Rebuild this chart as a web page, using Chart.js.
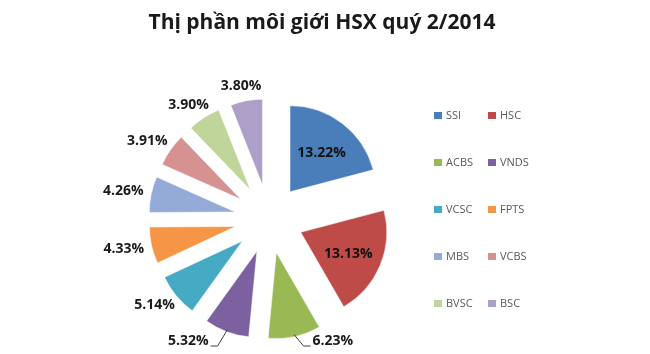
<!DOCTYPE html>
<html>
<head>
<meta charset="utf-8">
<script src="https://cdn.jsdelivr.net/npm/chart.js@4.4.1/dist/chart.umd.min.js"></script>
<style>
  html, body { margin: 0; padding: 0; background: #ffffff; }
  canvas { display: block; }
</style>
</head>
<body>
<canvas id="c" width="650" height="354"></canvas>
<script>
// ---- data ----
const chartTitle = 'Thị phần môi giới HSX quý 2/2014';
const categories = ['SSI', 'HSC', 'ACBS', 'VNDS', 'VCSC', 'FPTS', 'MBS', 'VCBS', 'BVSC', 'BSC'];
const shares = [13.22, 13.13, 6.23, 5.32, 5.14, 4.33, 4.26, 3.91, 3.90, 3.80];
const sliceColors = ['#4A7EBB', '#BE4B48', '#98B954', '#7D60A0', '#46AAC5',
                     '#F69545', '#93ABD6', '#D69290', '#C0D599', '#AD9FC8'];

// ---- styling constants ----
const EXPLODE = 0.4;          // explosion as fraction of radius
const PIE_RADIUS = 86;
const LABEL_FONT = 'bold 14px "Open Sans", sans-serif';
const LEGEND_FONT = '11px "Open Sans", sans-serif';
const TITLE_FONT = 'bold 21px "Open Sans", sans-serif';

const explodePlugin = {
  id: 'explodePlugin',
  afterUpdate(chart) {
    const meta = chart.getDatasetMeta(0);
    const ca = chart.chartArea;
    const cx = (ca.left + ca.right) / 2, cy = (ca.top + ca.bottom) / 2;
    meta.data.forEach(arc => {
      const m = (arc.startAngle + arc.endAngle) / 2;
      const d = arc.outerRadius * EXPLODE;
      arc.x = cx + Math.cos(m) * d;
      arc.y = cy + Math.sin(m) * d;
    });
  }
};

const labelPlugin = {
  id: 'labelPlugin',
  afterDatasetsDraw(chart) {
    const ctx = chart.ctx;
    const meta = chart.getDatasetMeta(0);
    const limitY = chart.height - 5;
    ctx.save();
    ctx.font = LABEL_FONT;
    ctx.textAlign = 'center';
    ctx.textBaseline = 'middle';
    meta.data.forEach((arc, i) => {
      const txt = shares[i].toFixed(2) + '%';
      const m = (arc.startAngle + arc.endAngle) / 2;
      const dx = Math.cos(m), dy = Math.sin(m);
      const R = arc.outerRadius;
      if (shares[i] >= 10) {
        ctx.fillStyle = '#111111';
        ctx.fillText(txt, arc.x + dx * R * 0.6, arc.y + dy * R * 0.6 + 2);
        return;
      }
      const w = ctx.measureText(txt).width, h = 14;
      const ex = arc.x + dx * R, ey = arc.y + dy * R;
      const gap = 8;
      let cx = ex + dx * gap + dx * w / 2;
      let cy = ey + dy * gap + dy * h / 2;
      if (cy + h / 2 > limitY) {
        const s = dx < 0 ? -1 : 1;
        cy = limitY - h / 2 - 1;
        cx = ex + s * (18 + w / 2);
        ctx.strokeStyle = '#404040';
        ctx.lineWidth = 1;
        ctx.beginPath();
        ctx.moveTo(arc.x + dx * (R - 2), arc.y + dy * (R - 2));
        ctx.lineTo(cx - s * (w / 2 + 9), cy + 5);
        ctx.lineTo(cx - s * (w / 2 + 2), cy + 5);
        ctx.stroke();
      }
      ctx.fillStyle = '#1a1a1a';
      ctx.fillText(txt, cx, cy);
    });
    ctx.restore();
  },
  afterDraw(chart) {
    const ctx = chart.ctx;
    ctx.save();
    // title
    ctx.font = TITLE_FONT;
    ctx.fillStyle = '#1a1a1a';
    ctx.textAlign = 'center';
    ctx.textBaseline = 'middle';
    ctx.fillText(chartTitle, 322, 23);
    // legend: 2 columns, row-major
    ctx.font = LEGEND_FONT;
    ctx.textAlign = 'left';
    categories.forEach((name, i) => {
      const col = i % 2, row = Math.floor(i / 2);
      const x = 434 + col * 54;
      const y = 115 + row * 47;
      ctx.fillStyle = sliceColors[i];
      ctx.fillRect(x, y - 3, 8, 7);
      ctx.fillStyle = '#595959';
      ctx.fillText(name, x + 12, y + 0.5);
    });
    ctx.restore();
  }
};

new Chart(document.getElementById('c'), {
  type: 'pie',
  data: {
    labels: categories,
    datasets: [{
      data: shares,
      backgroundColor: sliceColors,
      borderColor: 'rgba(255,255,255,0.5)',
      borderWidth: 1,
      radius: PIE_RADIUS,
      clip: false
    }]
  },
  options: {
    responsive: false,
    animation: false,
    radius: PIE_RADIUS,
    layout: { padding: { left: 150, right: 262, top: 134, bottom: 50 } },
    plugins: {
      legend: { display: false },
      title: { display: false },
      tooltip: { enabled: false }
    }
  },
  plugins: [explodePlugin, labelPlugin]
});
</script>
</body>
</html>
